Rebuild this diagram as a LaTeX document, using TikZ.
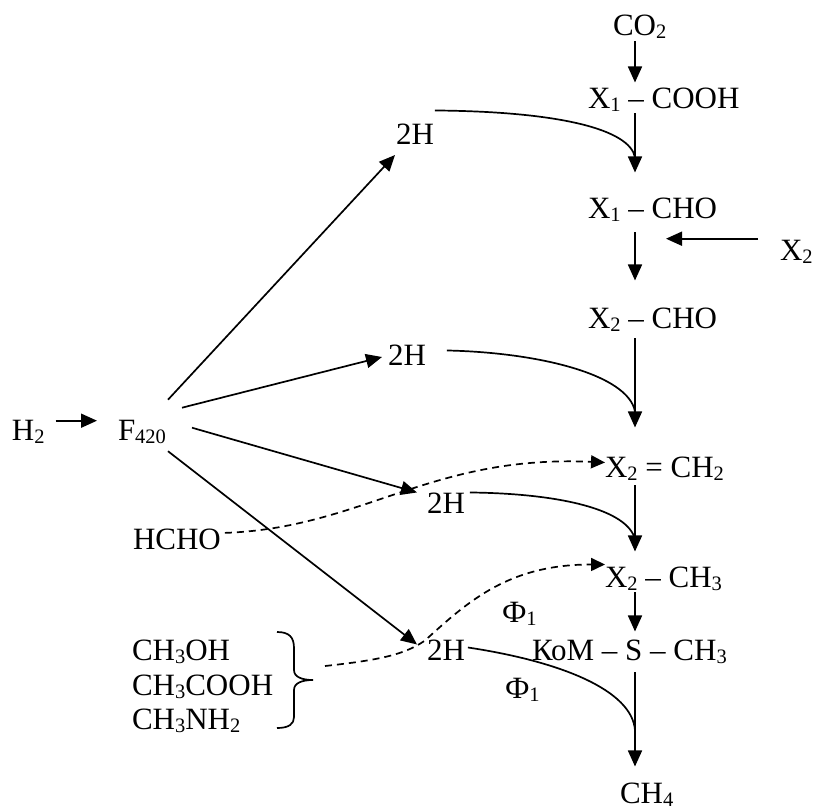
\documentclass[tikz,border=0pt]{standalone}
\usepackage{fontspec}
\setmainfont{Liberation Serif}
\usetikzlibrary{arrows.meta,calc}
\newcommand\sbx[1]{\raisebox{-3pt}{\fontsize{20.5}{21}\selectfont #1}}
\begin{document}
\begin{tikzpicture}[x=1pt,y=-1pt,
  lbl/.style={anchor=base west,inner sep=0pt,outer sep=0pt,font=\fontsize{31}{36}\selectfont},
  arr/.style={line width=1.7pt,-{Triangle[length=16pt,width=14pt]}},
  ln/.style={line width=1.7pt},
  dsh/.style={line width=1.7pt,dash pattern=on 7pt off 5pt,-{Triangle[length=14pt,width=13pt]}}]
\useasboundingbox (0,0) rectangle (814,809);
\coordinate (col) at (635,0);
% nodes
\node[lbl] (co2) at (613,35) {CO\sbx{2}};
\node[lbl] (x1cooh) at (588,108) {X\sbx{1} – COOH};
\node[lbl] (h2a) at (396,144) {2H};
\node[lbl] (x1cho) at (588,218) {X\sbx{1} – CHO};
\node[lbl] (x2r) at (780,260) {X\sbx{2}};
\node[lbl] (x2cho) at (588,328) {X\sbx{2} – CHO};
\node[lbl] (h2b) at (388,365) {2H};
\node[lbl] (h2) at (12,440) {H\sbx{2}};
\node[lbl] (f420) at (118,440) {F\sbx{420}};
\node[lbl] (x2ch2) at (605,477) {X\sbx{2} = CH\sbx{2}};
\node[lbl] (hcho) at (133,549) {HCHO};
\node[lbl] (h2c) at (427,513) {2H};
\node[lbl] (x2ch3) at (605,587) {X\sbx{2} – CH\sbx{3}};
\node[lbl] (phia) at (502,622) {Ф\sbx{1}};
\node[lbl] (ch3oh) at (132,660) {CH\sbx{3}OH};
\node[lbl] (h2d) at (427,660) {2H};
\node[lbl] (kom) at (532,660) {КоМ – S – CH\sbx{3}};
\node[lbl] (phib) at (505,698) {Ф\sbx{1}};
\node[lbl] (ch3cooh) at (132,695) {CH\sbx{3}COOH};
\node[lbl] (ch3nh2) at (132,729) {CH\sbx{3}NH\sbx{2}};
\node[lbl] (ch4) at (620,803) {CH\sbx{4}};
% brace
\coordinate (bracetip) at (313,680);
\draw[ln] (277,632) .. controls (289,632) and (294,637) .. (294,648) -- (294,670)
  .. controls (294,677) and (302,680) .. (bracetip)
  .. controls (302,680) and (294,683) .. (294,690) -- (294,717)
  .. controls (294,724) and (289,728) .. (277,728);
% main column
\draw[arr] ($(co2.south -| col)+(0,3)$) -- ($(x1cooh.north -| col)+(0,-5)$);
\draw[arr] ($(x1cooh.south -| col)+(0,2)$) -- ($(x1cho.north -| col)+(0,-25)$);
\draw[arr] ($(x1cho.south -| col)+(0,11)$) -- ($(x2cho.north -| col)+(0,-27)$);
\draw[arr] ($(x2cho.south -| col)+(0,7)$) -- ($(x2ch2.north -| col)+(0,-29)$);
\draw[arr] ($(x2ch2.south -| col)+(0,5)$) -- ($(x2ch3.north -| col)+(0,-15)$);
\draw[arr] ($(x2ch3.south -| col)+(0,2)$) -- ($(kom.north -| col)+(0,-8)$);
\draw[arr] ($(kom.south -| col)+(0,9)$) -- ($(ch4.north -| col)+(0,-16)$);
% X2 side input
\draw[arr] ($(x2r.north west)+(-22,-1)$) -- ++(-92,0);
% H2 -> F420
\draw[arr] ($(h2.north east)+(11,1)$) -- ($(f420.north west)+(-21,1)$);
% F420 -> 2H
\draw[arr] ($(f420.north east)+(2,-20)$) -- ($(h2a.south west)+(-1,11)$);
\draw[arr] ($(f420.north east)+(16,-12)$) -- ($(h2b.south west)+(-6,-8)$);
\draw[arr] ($(f420.north east)+(26,8)$) -- ($(h2c.north west)+(-10,0)$);
\draw[arr] ($(f420.south east)+(2,8)$) -- ($(h2d.north west)+(-10,5)$);
% 2H -> column curves
\draw[ln] ($(h2a.north east)+(1,-13)$) .. controls +(125,1) and +(-5,-28) .. ($(x1cho.north -| col)+(0,-40)$);
\draw[ln] ($(h2b.north east)+(21,6)$) .. controls +(92,2) and +(-7,-37) .. ($(x2ch2.north -| col)+(0,-45)$);
\draw[ln] ($(h2c.north east)+(5,0)$) .. controls +(90,1) and +(-7,-30) .. ($(x2ch3.north -| col)+(0,-27)$);
\draw[ln] ($(h2d.north east)+(3,8)$) .. controls +(93,14) and +(-3,-40) .. ($(kom.south -| col)+(0,67)$);
% dashed inputs
\draw[dsh] ($(hcho.east)+(4,-6)$) .. controls +(138,-5) and +(-175,-8) .. ($(x2ch2.north west)+(0,6)$);
\draw[dsh] ($(bracetip)+(12,-14)$) .. controls +(55,-6) and +(-20,14) .. ($(h2d.north west)+(-2,1)$)
  .. controls +(45,-41) and +(-95,0) .. ($(x2ch3.north west)+(0,-2)$);
\end{tikzpicture}
\end{document}
